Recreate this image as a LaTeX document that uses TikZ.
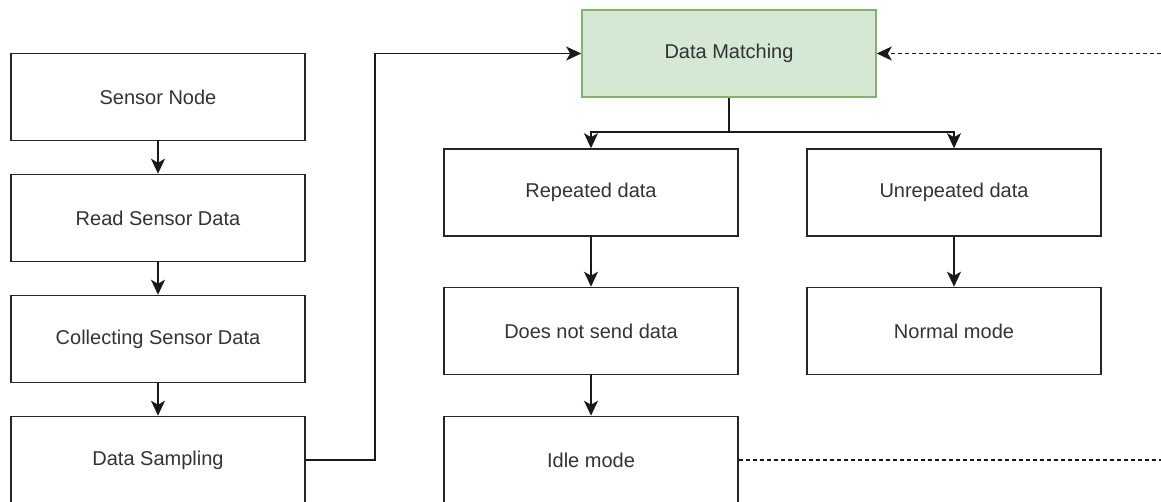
\documentclass[tikz,border=0pt]{standalone}
\usepackage{fontspec}
\setmainfont{Liberation Sans}
\usetikzlibrary{arrows.meta}
\definecolor{matchfill}{HTML}{D5E8D4}
\definecolor{matchline}{HTML}{82B366}
\tikzset{
  box/.style={draw=black!85, line width=1.6pt, minimum width=294pt, minimum height=87pt,
    inner sep=0pt, text=black!80, font=\fontsize{20}{24}\selectfont},
  link/.style={line width=1.6pt, draw=black!90, -{Stealth[length=15pt,width=14pt,inset=4pt]}},
  feedback/.style={line width=1.6pt, draw=black!90, dash pattern=on 4pt off 3pt}
}
\begin{document}
\begin{tikzpicture}[x=1pt,y=-1pt]
 \useasboundingbox (0,0) rectangle (1161,501);
 % left column
 \node[box] (sensor)     at (158,97)  {Sensor Node};
 \node[box] (read)       at (158,218) {Read Sensor Data};
 \node[box] (collecting) at (158,339) {Collecting Sensor Data};
 \node[box] (sampling)   at (158,460) {Data Sampling};
 % matching and branches
 \node[box, fill=matchfill, draw=matchline] (match) at (729,53.5) {Data Matching};
 \node[box] (repeated)   at (591,192.5) {Repeated data};
 \node[box] (unrepeated) at (954,192.5) {Unrepeated data};
 \node[box] (nosend)     at (591,331)   {Does not send data};
 \node[box] (normal)     at (954,331)   {Normal mode};
 \node[box] (idle)       at (591,460)   {Idle mode};
 \coordinate (loopout)  at (1161,460);
 \coordinate (loopback) at (1161,53.5);
 % connectors
 \draw[link] (sensor) -- (read);
 \draw[link] (read) -- (collecting);
 \draw[link] (collecting) -- (sampling);
 \draw[link] (sampling.east) -- ++(69,0) |- (match.west);
 \draw[link] (match.south) -- ++(0,34) -| (repeated.north);
 \draw[link] (match.south) -- ++(0,34) -| (unrepeated.north);
 \draw[link] (repeated) -- (nosend);
 \draw[link] (unrepeated) -- (normal);
 \draw[link] (nosend) -- (idle);
 \draw[feedback] (idle.east) -- (loopout);
 \draw[feedback, -{Stealth[length=15pt,width=14pt,inset=4pt]}] (loopback) -- (match.east);
\end{tikzpicture}
\end{document}
